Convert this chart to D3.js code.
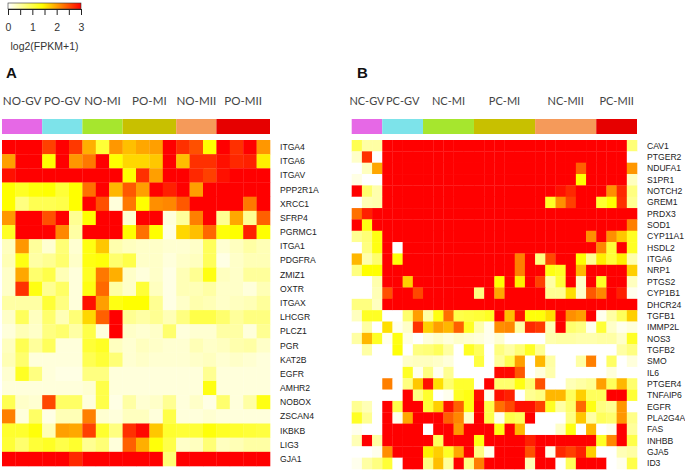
<!DOCTYPE html>
<html><head><meta charset="utf-8">
<script src="https://cdn.jsdelivr.net/npm/d3@7"></script>
<style>html,body{margin:0;padding:0;background:#fff}svg{display:block}</style>
</head><body><svg id="c" width="685" height="475"></svg>
<script>
const genesA=["ITGA4","ITGA6","ITGAV","PPP2R1A","XRCC1","SFRP4","PGRMC1","ITGA1","PDGFRA","ZMIZ1","OXTR","ITGAX","LHCGR","PLCZ1","PGR","KAT2B","EGFR","AMHR2","NOBOX","ZSCAN4","IKBKB","LIG3","GJA1"];
const genesB=["CAV1","PTGER2","NDUFA1","S1PR1","NOTCH2","GREM1","PRDX3","SOD1","CYP11A1","HSDL2","ITGA6","NRP1","PTGS2","CYP1B1","DHCR24","TGFB1","IMMP2L","NOS3","TGFB2","SMO","IL6","PTGER4","TNFAIP6","EGFR","PLA2G4A","FAS","INHBB","GJA5","ID3"];
const groupsA=["NO-GV","PO-GV","NO-MI","PO-MI","NO-MII","PO-MII"];
const groupSizesA=[3,3,3,4,3,4];
const groupsB=["NC-GV","PC-GV","NC-MI","PC-MI","NC-MII","PC-MII"];
const groupSizesB=[3,4,5,6,6,4];
const groupColors=["#e668e6","#7de3ea","#a6e62e","#c8c000","#f59a5a","#e60000"];
const legendTicks=[0,0.5,1,1.5,2,2.5,3];
const legendLabels=[0,1,2,3];
const valuesA=[
[3,3,3,2.6,3,2.65,1.9,1.1,2.05,1.8,1.95,2,3,2.7,2.5,1.4,3,2.7,3,2.05],
[2,3,3,1.4,3,2.05,2.25,3,1.4,1.65,1.65,1.75,3,1.8,2.7,2.7,2.9,2.75,2.8,1.5],
[2.9,3,3,3,3,3,3,3,3,1.4,2.7,2,3,3,2.75,2.6,2.9,3,3,3],
[1.4,1.2,1.35,1.4,1.1,1.4,2.3,3,1.85,2.45,2,3,2.8,3,2,3,3,3,3,3],
[1.4,.7,.95,.95,1,1.4,3,2.5,.2,2.25,1.4,2.1,2.15,2.45,3,3,3,3,2.25,3],
[2.05,3,3,2.5,3,.6,1.4,3,3,.25,3,3,.2,.55,2.2,3,.6,1.95,.6,2.4],
[1.2,3,3,3,2.15,.5,3,3,3,1.4,2.3,1.4,.15,1.65,1.8,2.35,1.35,1.4,2.8,1.4],
[.35,2.05,.55,.25,.75,.25,1.3,1.75,.45,.35,.3,.3,.25,.25,.3,.9,.25,.35,.5,.4],
[.4,1.3,.5,.6,.8,.3,1.3,1.35,.8,1,.3,.3,.2,.3,.35,.9,.15,.3,.4,.4],
[.3,1.95,.8,1,.4,.2,1.2,2.25,1.9,.3,.2,.3,.15,.4,.6,1.3,.35,.3,.55,.55],
[.3,2.7,1.3,.6,.85,.2,1.3,2.35,.5,.3,1.1,.35,.15,.4,.4,.5,.3,.3,.2,.4],
[.5,.5,.5,1.1,.7,.2,2.9,2,1.3,1.4,1.4,.6,.15,.3,.45,.4,.3,.35,.4,.55],
[.3,.9,.35,.8,.4,.75,1.65,2.4,3,.6,.5,.6,.4,.7,1,1,.8,.55,.7,.7],
[.2,.4,.3,.7,.8,.5,1,.2,3,.3,.25,.3,.8,.2,.25,.25,.5,.5,.2,.6],
[.35,.95,.55,.9,.2,.2,1.1,1.2,.35,.25,.35,.3,.25,.25,.4,.3,.35,.45,.5,.3],
[.4,.8,.2,.2,.2,.2,.95,1.1,.75,.25,.3,.25,.25,.25,.3,.35,.25,.3,.25,.2],
[.25,1.2,.7,.2,.15,.15,.7,.7,.2,.2,.2,.2,.2,.2,.2,.6,.2,.2,.2,.2],
[.2,.2,.2,.2,.2,.2,.25,1,.2,.2,.2,.2,.2,.2,.2,1.3,.2,.2,.2,.2],
[.95,.3,.25,2.55,.85,.85,.2,1,.15,.5,.25,.3,.6,.2,.3,.15,.8,.2,.5,1.3],
[2.2,.2,.85,.15,.4,.4,2.2,.25,.2,.35,.35,.2,1,.2,.2,.25,.2,.2,.2,.2],
[1.15,1.15,1.35,.4,2,1.95,2.6,1.15,.7,2.7,2.95,1.75,1.15,1.1,1.1,1.35,1.2,1.15,1.1,1.05],
[1.1,.8,1.1,1.2,1,1.15,.6,.75,.2,2.4,1.9,1.35,1,.3,.35,.75,.35,.4,.5,.5],
[3,3,3,3,3,2.75,3,3,3,3,3,3,.75,3,3,3,3,3,3,3]
];
const valuesB=[
[.95,.5,.5,3,3,3,3,3,3,3,3,3,3,3,3,3,3,3,3,3,3,3,3,3,3,3,3,.75],
[.3,2.7,0,3,3,3,3,3,3,3,3,3,3,3,3,3,3,3,3,3,3,3,3,3,3,3,3,0],
[0,.35,1.95,3,3,3,3,3,3,3,3,3,3,3,3,3,3,3,3,3,3,3,2.4,3,3,3,3,2.05],
[.15,0,0,3,3,3,3,3,3,3,3,3,3,3,3,3,3,3,3,3,3,3,1.4,3,3,3,3,.35],
[3,.8,.45,3,3,3,3,3,3,3,3,3,3,3,3,3,3,3,3,3,2.9,2.75,3,3,3,2.1,2.75,.7],
[0,.4,.45,3,3,3,3,3,3,3,3,3,3,3,3,3,3,3,3,1.2,2.1,2.6,3,3,1.15,1.4,2.7,.6],
[2.3,2.8,3,3,3,3,3,3,3,3,3,3,3,3,3,3,3,3,3,3,3,3,3,3,3,3,3,3],
[3,1.3,3,3,3,3,3,3,3,3,3,3,3,3,3,3,3,3,3,3,3,3,3,3,3,3,3,2.2],
[.6,.75,1.3,3,3,3,3,3,3,3,3,3,3,3,3,3,3,3,3,3,3,3,3,2.1,3,2.1,1.75,1.2],
[0,.7,1.3,3,0,3,3,3,3,3,3,3,3,3,3,3,3,3,3,3,3,3,3,3,2.15,1.1,3,1.2],
[1.85,.45,.8,3,1.35,3,3,3,3,3,3,3,3,3,3,3,2.2,3,.7,2.55,3,3,1.4,.6,1.5,1.1,1.5,.45],
[.7,1.4,1.4,3,3,3,3,3,3,3,3,3,3,3,3,3,2.2,3,3,1.3,1.2,3,1.85,3,3,3,3,1.7],
[0,0,.45,3,3,1.7,3,3,3,3,3,3,3,3,1.4,3,1.5,3,2.6,.5,1.1,3,.3,3,1.2,3,3,.35],
[0,0,.4,2.5,3,3,2.55,3,3,3,3,3,.7,3,1.95,3,3,3,3,.6,.6,1.6,.3,2.45,2.15,3,2.8,.1],
[.7,.7,.35,3,3,3,3,3,3,3,3,3,3,3,3,3,3,3,3,3,3,3,3,3,3,3,3,3],
[.35,1.2,1.2,0,0,.8,2,.5,1.3,2.3,1,1.05,1.1,1.2,3,1.8,2.9,1.35,1.35,1.6,3,2.1,2,3,.1,.5,.9,1.7],
[0,.5,0,1.6,.1,.3,2.7,1.7,2,1.85,2.4,1.2,.45,.1,2.1,2.15,.5,2.75,2.65,.4,3,.8,.7,.1,1.1,.3,.1,.2],
[.5,1.85,1.2,.1,1.3,.15,0,.2,.3,.2,.3,.25,.2,.1,.25,0,0,0,0,.45,.5,.5,.45,.45,.5,.5,.3,1.2],
[0,.5,0,0,1.35,0,.7,.75,.9,.5,0,1.2,.9,0,.7,.5,.75,1.2,.6,0,0,0,0,0,0,0,.5,.7],
[0,0,0,0,0,.3,.35,.35,.3,.2,0,0,1.05,0,.55,.95,2,0,1.85,.5,0,0,.5,2.2,0,.85,0,.2],
[0,0,0,0,0,1.2,.1,.7,.1,.6,0,0,0,0,2.95,2.95,2.45,0,.2,.45,0,0,0,0,0,.2,0,0],
[0,0,0,2.2,0,.7,1.75,2.9,1.6,.8,1.15,1.15,0,3,.8,.8,1.3,.8,2.5,0,0,.4,.5,.6,2,.9,1.85,.8],
[0,0,0,0,0,3,.7,1.15,0,.1,1.2,1.3,2.9,.1,2.9,2.8,0,.6,.7,1.85,1.85,.9,1.7,.9,.9,3,3,1.1],
[.6,.4,0,3,1,3,3,1.1,1.7,2.9,2.4,1.3,3,1,2.3,2.55,2.9,2.9,2.6,1.2,.5,.8,2.35,1.3,.7,.6,2.05,0],
[1.2,.6,0,3,.1,1.95,3,3,3,2.4,2.15,.3,3,1,.1,1,.9,3,0,0,0,.7,1.75,.5,.9,.8,2.05,.65],
[.1,0,0,3,3,3,3,0,3,3,2.05,3,3,3,1.3,3,1.85,0,0,0,.3,1.3,0,1.85,0,.1,3,.55],
[.4,3,.5,3,3,3,3,3,.9,3,3,3,1.3,3,3,3,3,2.8,3,3,3,3,3,3,1.2,2.15,3,1],
[0,0,.1,2.1,3,3,3,1.5,1.7,1.2,1.95,3,.7,.1,3,3,3,2.5,3,.1,2.75,2.6,2.8,1.7,0,0,.4,.5],
[.1,.5,.7,1.1,0,3,3,.7,1.8,.55,3,.7,2.2,3,3,3,3,.4,3,3,0,.9,3,3,3,0,.1,1]
];

const color=d3.scaleLinear().domain([0,1.4,3]).range(["#ffffff","#ffff00","#ff0000"]).clamp(true);
const svg=d3.select("#c");
const gFont="Lato,sans-serif", aFont="'Liberation Sans',Arial,sans-serif";

function panel(genes,values,groups,sizes,x0,x1,y0,y1,labelX,groupSize){
  const nCols=values[0].length;
  const cols=d3.range(nCols);
  const x=d3.scaleBand().domain(cols).range([x0,x1]);
  const y=d3.scaleBand().domain(genes).range([y0,y1]);
  const g=svg.append("g");
  values.forEach((row,i)=>{
    g.selectAll(null).data(row).join("rect")
      .attr("x",(d,j)=>x(j)).attr("y",y(genes[i]))
      .attr("width",x.bandwidth()+.3).attr("height",y.bandwidth()+.3)
      .attr("fill",d=>color(d));
  });
  g.selectAll(null).data(genes).join("text")
    .attr("x",labelX).attr("y",d=>y(d)+y.bandwidth()/2).attr("dy","0.35em")
    .attr("font-family",aFont).attr("font-size",8.6).attr("fill","#222").text(d=>d);
  let c=0;
  groups.forEach((name,k)=>{
    const a=x(c), b=x(c+sizes[k]-1)+x.bandwidth();
    g.append("rect").attr("x",a).attr("y",119).attr("width",b-a).attr("height",15).attr("fill",groupColors[k]);
    g.append("text").attr("x",(a+b)/2).attr("y",101).attr("dy","0.35em").attr("text-anchor","middle")
      .attr("font-family",gFont).attr("font-size",groupSize).attr("fill","#444").text(name);
    c+=sizes[k];
  });
}
panel(genesA,valuesA,groupsA,groupSizesA,2,270,140,466,280,11.6);
panel(genesB,valuesB,groupsB,groupSizesB,351.7,637,140,469,647,11);

// colour key
const lx=d3.scaleLinear().domain([0,3]).range([8,81]);
const grad=svg.append("defs").append("linearGradient").attr("id","key");
grad.selectAll("stop").data(color.domain()).join("stop")
  .attr("offset",d=>d/3).attr("stop-color",d=>color(d));
svg.append("rect").attr("x",lx(0)).attr("y",3).attr("width",lx(3)-lx(0)).attr("height",6)
  .attr("fill","url(#key)").attr("stroke","#333").attr("stroke-width",.6);
const axis=d3.axisBottom(lx).tickValues(legendTicks).tickSize(6).tickPadding(9)
  .tickFormat(d=>legendLabels.includes(d)?d:"");
const ag=svg.append("g").attr("transform","translate(0,9)").call(axis);
ag.selectAll("line").attr("stroke","#222");
ag.select(".domain").attr("stroke","#222");
ag.selectAll("text").attr("font-family",aFont).attr("font-size",10.5).attr("fill","#333");
svg.append("text").attr("x",44.5).attr("y",46).attr("dy","0.35em").attr("text-anchor","middle")
  .attr("font-family",aFont).attr("font-size",10.5).attr("fill","#333").text("log2(FPKM+1)");
[["A",6],["B",357]].forEach(([t,xp])=>svg.append("text").attr("x",xp).attr("y",73).attr("dy","0.35em")
  .attr("font-family",aFont).attr("font-weight","bold").attr("font-size",15).attr("fill","#111").text(t));
</script></body></html>
